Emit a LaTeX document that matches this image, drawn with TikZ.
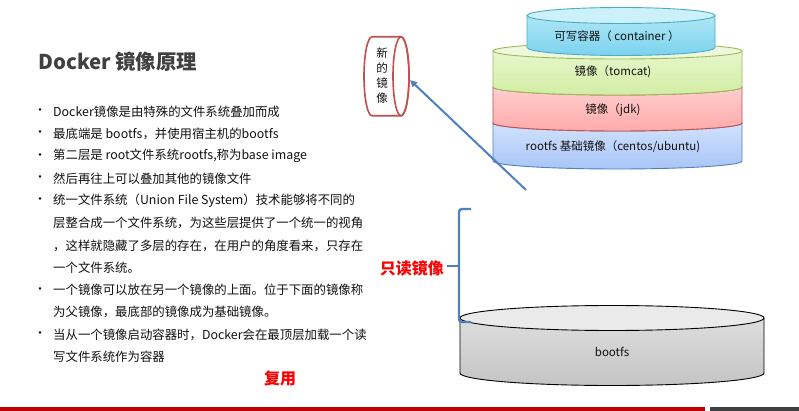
\documentclass[tikz,border=0pt]{standalone}
\usepackage{fontspec}
\setmainfont{Noto Sans CJK SC}
\usetikzlibrary{arrows.meta}
\definecolor{titlegray}{HTML}{404040}
\definecolor{txt}{HTML}{111111}
\definecolor{accblue}{HTML}{4F81BD}
\definecolor{accred}{HTML}{C0504D}
\definecolor{barred}{HTML}{C00000}
\definecolor{bargray}{HTML}{3F3F3F}
\definecolor{redtxt}{HTML}{FF0000}
\definecolor{cbord}{HTML}{4BACC6}
\definecolor{ctop}{HTML}{CDF1FA}
\definecolor{cbt}{HTML}{B8EBF8}
\definecolor{cbb}{HTML}{7CD2EE}
\definecolor{tbord}{HTML}{9BBB59}
\definecolor{ttop}{HTML}{EEF8DC}
\definecolor{tbt}{HTML}{EBF8D4}
\definecolor{tbb}{HTML}{D2EDA4}
\definecolor{jbord}{HTML}{C0504D}
\definecolor{jbt}{HTML}{FFD6D6}
\definecolor{jbb}{HTML}{FFA9A9}
\definecolor{rbord}{HTML}{4F81BD}
\definecolor{rbt}{HTML}{D9E7FF}
\definecolor{rbb}{HTML}{A9C5F7}
\definecolor{gtop}{HTML}{EAEAEA}
\definecolor{gbt}{HTML}{E2E2E2}
\definecolor{gbb}{HTML}{C4C4C4}
\newcommand\drawcyl[9]{%
  \pgfmathsetmacro\cylrx{(#2-#1)/2}%
  \pgfmathsetmacro\cylcx{(#2+#1)/2}%
  \path[top color=#6,bottom color=#7] (#1,#3) -- (#1,#4) arc[start angle=180,end angle=360,x radius=\cylrx,y radius=#5] -- (#2,#3) arc[start angle=0,end angle=180,x radius=\cylrx,y radius=#5] -- cycle;
  \draw[draw=#8,line width=0.9pt] (#1,#3) -- (#1,#4) arc[start angle=180,end angle=360,x radius=\cylrx,y radius=#5] -- (#2,#3);
  \draw[fill=#9,draw=#8,line width=0.9pt] (\cylcx,#3) ellipse[x radius=\cylrx,y radius=#5];
}
\begin{document}
\begin{tikzpicture}[x=1pt,y=1pt,
  bodytxt/.style={anchor=west,inner sep=0pt,text=txt,font=\fontsize{12.4}{14}\selectfont},
  bul/.style={inner sep=0pt,text=txt,font=\fontsize{12}{13}\selectfont},
  cyltxt/.style={inner sep=0pt,text=txt,font=\fontsize{11.5}{13}\selectfont},
  redlbl/.style={inner sep=0pt,text=redtxt,font=\fontsize{16}{18}\selectfont\bfseries}]
\useasboundingbox (0,0) rectangle (799,-411);
\fill[white] (0,0) rectangle (799,-411);

% title
\node[anchor=west,inner sep=0pt,text=titlegray,font=\fontsize{20.4}{24}\selectfont\bfseries] (title) at (38,-62) {Docker 镜像原理};

% bullets
\node[bul] (b1) at (40,-111.7) {•};
\node[bodytxt] (l1) at (53,-111.7) {Docker镜像是由特殊的文件系统叠加而成};
\node[bul] (b2) at (40,-134) {•};
\node[bodytxt] (l2) at (53,-134) {最底端是 bootfs，并使用宿主机的bootfs};
\node[bul] (b3) at (40,-156.3) {•};
\node[bodytxt] (l3) at (53,-156.3) {第二层是 root文件系统rootfs,称为base image};
\node[bul] (b4) at (40,-178.6) {•};
\node[bodytxt] (l4) at (53,-178.6) {然后再往上可以叠加其他的镜像文件};
\node[bul] (b5) at (40,-200.9) {•};
\node[bodytxt] (l5) at (53,-200.9) {统一文件系统（Union File System）技术能够将不同的};
\node[bodytxt] (l6) at (53,-223.2) {层整合成一个文件系统，为这些层提供了一个统一的视角};
\node[bodytxt] (l7) at (53,-245.5) {，这样就隐藏了多层的存在，在用户的角度看来，只存在};
\node[bodytxt] (l8) at (53,-267.8) {一个文件系统。};
\node[bul] (b6) at (40,-290.1) {•};
\node[bodytxt] (l9) at (53,-290.1) {一个镜像可以放在另一个镜像的上面。位于下面的镜像称};
\node[bodytxt] (l10) at (53,-312.4) {为父镜像，最底部的镜像成为基础镜像。};
\node[bul] (b7) at (40,-334.7) {•};
\node[bodytxt] (l11) at (53,-334.7) {当从一个镜像启动容器时，Docker会在最顶层加载一个读};
\node[bodytxt] (l12) at (53,-357) {写文件系统作为容器};

% red labels
\node[redlbl] (reuse) at (280,-378) {复用};
\node[redlbl,anchor=east] (ro) at (444,-268) {只读镜像};

% stacked cylinders
\drawcyl{493}{742}{-123}{-161}{8}{rbt}{rbb}{rbord}{rbt}
\drawcyl{493}{742}{-87}{-123}{8}{jbt}{jbb}{jbord}{jbt}
\drawcyl{493}{742}{-51}{-87}{8}{tbt}{tbb}{tbord}{ttop}
\drawcyl{527}{715}{-15.5}{-47.5}{8}{cbt}{cbb}{cbord}{ctop}
\node[cyltxt] (cont) at (617,-36.5) {可写容器（ container ）};
\node[cyltxt] (tom) at (613,-72) {镜像（tomcat)};
\node[cyltxt] (jdk) at (613,-110) {镜像（jdk)};
\node[cyltxt] (rootfs) at (613,-146.5) {rootfs 基础镜像（centos/ubuntu)};

% bootfs cylinder
\drawcyl{460}{764}{-318}{-373}{12.5}{gbt}{gbb}{black}{gtop}
\node[cyltxt] (bootfs) at (612,-352) {bootfs};

% new image (horizontal cylinder)
\draw[accred,line width=1.6pt,fill=white] (401,-36.8) -- (372,-36.8)
  arc[start angle=90,end angle=270,x radius=8,y radius=39.5] -- (401,-115.8)
  arc[start angle=270,end angle=450,x radius=8,y radius=39.5] -- cycle;
\draw[accred,line width=1.6pt] (401,-76.3) ellipse[x radius=8,y radius=39.5];
\node[inner sep=0pt,text=txt,align=center,font=\fontsize{11.5}{15}\selectfont] (newimg) at (382,-75.8) {新\\的\\镜\\像};

% arrow
\coordinate (arrS) at (526,-190);
\coordinate (arrE) at (410,-80);
\draw[accblue,line width=2pt,-{Triangle[length=7pt,width=6.5pt]}] (arrS) -- (arrE);

% brace
\coordinate (brT) at (471,-209);
\coordinate (brB) at (471,-322);
\coordinate (brM) at (459,-265.7);
\coordinate (brTip) at (447,-265.7);
\draw[accblue,line width=2.4pt,rounded corners=3pt] (brT) -- (459,-209) -- (459,-322) -- (brB);
\draw[accblue,line width=2.4pt] (brM) -- (brTip);

% bottom bars
\fill[barred] (0,-406.5) rectangle (705,-411);
\fill[bargray] (710,-406.5) rectangle (799,-411);
\end{tikzpicture}
\end{document}
